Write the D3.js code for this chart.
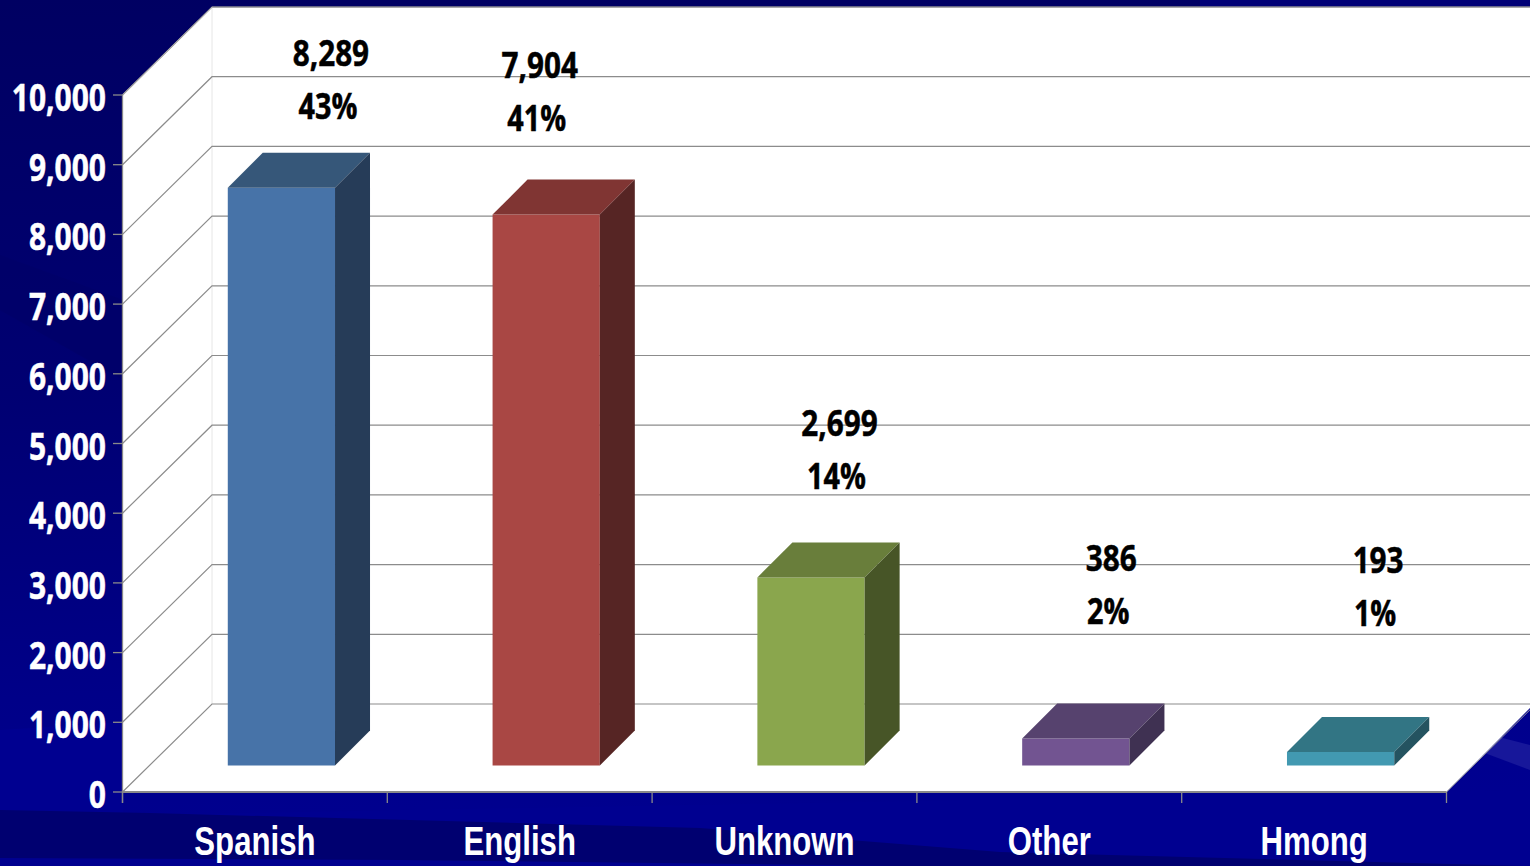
<!DOCTYPE html>
<html><head><meta charset="utf-8">
<script src="https://cdn.jsdelivr.net/npm/d3@7/dist/d3.min.js"></script>
<style>html,body{margin:0;padding:0;background:#00008c;overflow:hidden}svg{display:block}</style>
</head><body><svg id="c" width="1530" height="866"></svg>
<script>
const categories = ["Spanish","English","Unknown","Other","Hmong"];
const counts = [8289,7904,2699,386,193];
const percents = ["43%","41%","14%","2%","1%"];
const yTicks = [0,1000,2000,3000,4000,5000,6000,7000,8000,9000,10000];
const frontColors = ["#4773a8","#a94744","#8aa64d","#725491","#4299b1"];
const topColors = ["#365779","#803533","#697e3b","#56426e","#327584"];
const sideColors = ["#263c58","#562524","#475527","#3f3152","#245360"];
// hand-placed label anchors of the original slide, as layout only
const labelDx = [76,20,55,62,64];
const labelPctY = [106,118,476,611,613];

const W=1530,H=866;
const svg=d3.select("#c");
const defs=svg.append("defs");
const g=defs.append("linearGradient").attr("id","bg").attr("x1",0).attr("y1",0).attr("x2",0.1).attr("y2",1);
[[0,"#000062"],[0.45,"#000072"],[0.8,"#000088"],[1,"#000090"]].forEach(s=>g.append("stop").attr("offset",s[0]).attr("stop-color",s[1]));
svg.append("rect").attr("width",W).attr("height",H).attr("fill","url(#bg)");
const line=d3.line();
const poly=(pts,fill,op=1)=>svg.append("path").attr("d",line(pts)+"Z").attr("fill",fill).attr("opacity",op);
poly([[0,255],[123,300],[123,380],[0,310]],"#000068",.7);
poly([[0,730],[123,722],[123,815],[1530,790],[1530,866],[0,866]],"#000090",1);
poly([[0,810],[150,813],[700,828],[1000,852],[1530,866],[300,866],[0,866]],"#000070",1);
poly([[0,858],[400,860],[900,866],[0,866]],"#000090",1);
poly([[1460,727],[1530,745],[1530,770],[1482,752]],"#17179a",1);
poly([[1200,0],[1530,0],[1530,7],[1200,7]],"#000078",.9);

const x0=122.5,x1=1446.5,y0=792,yTop=95,dxWall=89.5,dyWall=88,barDepth=35,barLead=26.5;
const y=d3.scaleLinear().domain([0,10000]).range([y0,yTop]);
const x=d3.scaleBand().domain(categories).range([x0,x1]).paddingInner(0.595).paddingOuter(0.2975);

// walls
poly([[x0,yTop],[x0+dxWall,yTop-dyWall],[W,yTop-dyWall],[W,y0-dyWall+4],[x1,y0],[x0,y0]],"#ffffff");
svg.append("line").attr("x1",x0+dxWall).attr("x2",W).attr("y1",7).attr("y2",7).attr("stroke","#8a8a9a").attr("stroke-width",1);
svg.append("line").attr("x1",x0+dxWall).attr("x2",x0+dxWall).attr("y1",7).attr("y2",y0-dyWall).attr("stroke","#e6e6e6");
const grid=svg.append("g").attr("fill","none").attr("stroke","#8c8c8c").attr("stroke-width",1.2);
yTicks.forEach(t=>{
  grid.append("path").attr("d",line([[x0,y(t)],[x0+dxWall,y(t)-dyWall],[W,y(t)-dyWall]]));
});
svg.append("line").attr("x1",x0).attr("x2",x0+dxWall).attr("y1",yTop).attr("y2",yTop-dyWall).attr("stroke","#b0b0b0");
// right floor edge
svg.append("line").attr("x1",x1).attr("x2",W).attr("y1",y0).attr("y2",y0-(W-x1)*.985).attr("stroke","#9a9a9a");
// axes
const ax=svg.append("g").attr("stroke","#8a8a8a").attr("fill","none").attr("stroke-width",1.3);
ax.append("line").attr("x1",x0).attr("x2",x0).attr("y1",yTop).attr("y2",y0+11);
ax.append("line").attr("x1",x0).attr("x2",x1).attr("y1",y0).attr("y2",y0).attr("stroke-width",2);
yTicks.forEach(t=>ax.append("line").attr("x1",x0-9.5).attr("x2",x0).attr("y1",y(t)).attr("y2",y(t)));
d3.range(categories.length+1).forEach(i=>{
  const tx=x0+i*x.step();
  ax.append("line").attr("x1",tx).attr("x2",tx).attr("y1",y0).attr("y2",y0+11);
});
// bars
categories.forEach((c,i)=>{
  const l=x(c)+barLead,r=l+x.bandwidth(),b=y(0)-barLead,t=y(counts[i])-barLead,d=barDepth;
  poly([[l,t],[r,t],[r,b],[l,b]],frontColors[i]);
  poly([[l,t],[l+d,t-d],[r+d,t-d],[r,t]],topColors[i]);
  poly([[r,t],[r+d,t-d],[r+d,b-d],[r,b]],sideColors[i]);
});
// text with horizontal condensing
function tx(str,cx,cy,family,size,weight,fill,k,anchor,sw=0.5){
  return svg.append("text").text(str).attr("font-family",family).attr("font-size",size).attr("font-weight",weight).attr("fill",fill)
   .attr("stroke",fill).attr("stroke-width",sw)
   .attr("text-anchor",anchor)
   .attr("transform",`translate(${cx},${cy}) scale(${k},1)`);
}
const fmt=d3.format(",");
const num="'Open Sans',sans-serif";
yTicks.forEach(t=>tx(fmt(t),106,y(t)+16,num,37,700,"#ffffff",0.81,"end"));
categories.forEach((c,i)=>{
  const cx=x(c)+x.bandwidth()/2;
  tx(c,cx,y0+62.5,"'Liberation Sans',sans-serif",41,700,"#ffffff",0.76,"middle",0);
  tx(fmt(counts[i]),cx+labelDx[i],labelPctY[i]-40.5,num,36,700,"#000000",0.825,"middle");
  tx(percents[i],cx+labelDx[i]-3,labelPctY[i]+12.5,num,36,700,"#000000",0.8,"middle");
});
</script></body></html>
